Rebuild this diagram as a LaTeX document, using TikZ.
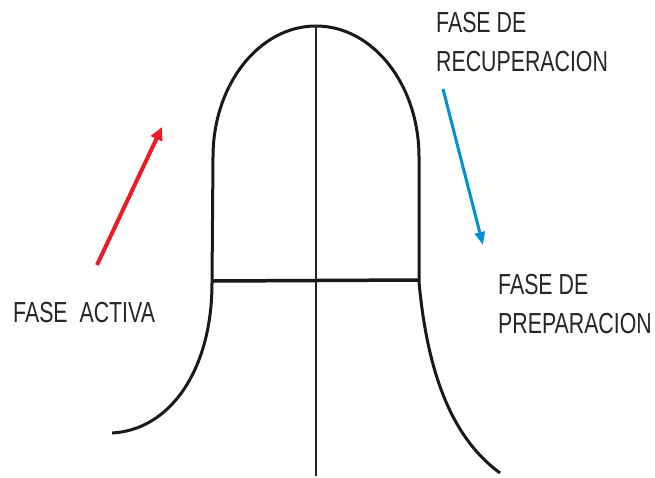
\documentclass[tikz,border=0pt]{standalone}
\usepackage{fontspec}
\newfontfamily\narrowfont[FakeStretch=0.735]{Liberation Sans}
\usetikzlibrary{arrows.meta}
\definecolor{arrred}{HTML}{ED1C24}
\definecolor{arrblue}{HTML}{0092D0}
\begin{document}
\begin{tikzpicture}[x=1pt,y=-1pt,
  curve/.style={line width=3pt,black!90},
  axis/.style={line width=1.4pt,black!85},
  base/.style={line width=3.5pt,black!90},
  label/.style={font=\narrowfont\fontsize{29}{39}\selectfont,align=left,inner sep=0pt,anchor=north west,text=black!85},
  redarrow/.style={line width=4pt,arrred,-{Triangle[length=13pt,width=12pt]}},
  bluearrow/.style={line width=3pt,arrblue,-{Triangle[length=13pt,width=10pt]}}]
\useasboundingbox (0,0) rectangle (655,477);
% named points
\coordinate (L0) at (112,433);
\coordinate (L1) at (212,283);
\coordinate (L2) at (213,157);
\coordinate (R2) at (419,157);
\coordinate (R1) at (419,282);
\coordinate (R0) at (500,473);
\coordinate (axtop) at (316,25);
\coordinate (axbot) at (316,476);
\coordinate (hl) at (213,281);
\coordinate (hr) at (419,280);
\coordinate (ra) at (97,265);
\coordinate (rb) at (162,127);
\coordinate (ba) at (443,89);
\coordinate (bb) at (483,245);
% bell curve
\draw[curve] (L0) .. controls (170,430) and (212,370) .. (L1) -- (L2)
  arc[start angle=180,end angle=360,x radius=103,y radius=131] -- (R1)
  .. controls (428,380) and (455,440) .. (R0);
\draw[axis] (axtop) -- (axbot);
\draw[base] (hl) -- (hr);
% arrows
\draw[redarrow] (ra) -- (rb);
\draw[bluearrow] (ba) -- (bb);
% labels
\node[label] (rec) at (436,12) {FASE DE\\RECUPERACION};
\node[label] (prep) at (498,274) {FASE DE\\PREPARACION};
\node[label] (act) at (13,302) {FASE\ \ ACTIVA};
\end{tikzpicture}
\end{document}
